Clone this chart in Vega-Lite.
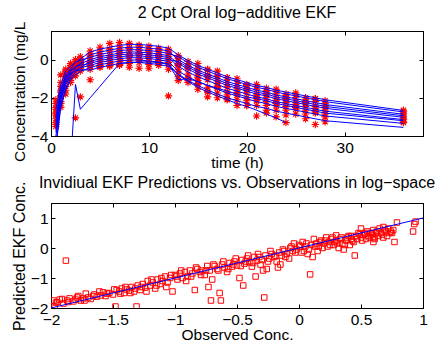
{
"$schema": "https://vega.github.io/schema/vega-lite/v6.json",
"padding": {"left": 10, "top": 4, "right": 5, "bottom": 0},
"spacing": 2,
"config": {
 "font": "Liberation Sans",
 "view": {"stroke": "#000000", "strokeWidth": 1},
 "axis": {"grid": false, "domainColor": "#000", "domainWidth": 1, "tickColor": "#000", "tickSize": -4, "labelColor": "#000", "labelFontSize": 15.5, "titleColor": "#000", "titleFontSize": 15.5, "titleFontWeight": "normal", "labelFlush": false, "labelOverlap": false, "minExtent": 0},
 "axisX": {"labelPadding": 8, "titlePadding": 0},
 "axisY": {"labelPadding": 7, "titlePadding": 3},
 "title": {"fontSize": 16, "fontWeight": "normal", "color": "#000", "font": "Liberation Sans", "frame": "group"}
},
"datasets": {
"top": [
{"s":1,"t":0.5,"p":-3.0,"o":-2.1},{"s":1,"t":1,"p":-1.54,"o":-1.2},{"s":1,"t":1.5,"p":-0.8,"o":-0.6},{"s":1,"t":2,"p":-0.49,"o":-0.3},{"s":1,"t":2.5,"p":-0.15,"o":-0.1},{"s":1,"t":3,"p":0.04,"o":0.15},{"s":1,"t":4,"p":0.4,"o":0.45},{"s":1,"t":5,"p":0.55,"o":0.65},{"s":1,"t":6,"p":0.65,"o":0.85},{"s":1,"t":7,"p":0.75,"o":0.9},{"s":1,"t":8,"p":0.8,"o":0.85},{"s":1,"t":9,"p":0.8,"o":0.75},{"s":1,"t":10,"p":0.75,"o":0.7},{"s":1,"t":11,"p":0.7,"o":0.6},{"s":1,"t":12,"p":0.6,"o":0.55},{"s":1,"t":13,"p":0.25,"o":0.2},{"s":1,"t":14,"p":-0.05,"o":-0.1},{"s":1,"t":15,"p":-0.3,"o":-0.2},{"s":1,"t":16,"p":-0.5,"o":-0.55},{"s":1,"t":17,"p":-0.7,"o":-0.6},{"s":1,"t":18,"p":-0.9,"o":-0.95},{"s":1,"t":19,"p":-1.05,"o":-1.0},{"s":1,"t":20,"p":-1.2,"o":-1.3},{"s":1,"t":21,"p":-1.35,"o":-1.3},{"s":1,"t":22,"p":-1.45,"o":-1.5},{"s":1,"t":23,"p":-1.6,"o":-1.55},{"s":1,"t":24,"p":-1.7,"o":-1.8},{"s":1,"t":25,"p":-1.8,"o":-1.75},{"s":1,"t":26,"p":-1.9,"o":-2.0},{"s":1,"t":27,"p":-2.0,"o":-2.05},{"s":1,"t":28,"p":-2.1,"o":-2.15},{"s":1,"t":36,"p":-2.66,"o":-2.65},
{"s":2,"t":0.5,"p":-4.0,"o":-2.9},{"s":2,"t":1,"p":-2.14,"o":-1.9},{"s":2,"t":1.5,"p":-1.3,"o":-1.2},{"s":2,"t":2,"p":-0.84,"o":-0.8},{"s":2,"t":2.5,"p":-0.45,"o":-0.35},{"s":2,"t":3,"p":-0.19,"o":-0.1},{"s":2,"t":4,"p":0.25,"o":0.3},{"s":2,"t":5,"p":0.4,"o":0.45},{"s":2,"t":6,"p":0.5,"o":0.55},{"s":2,"t":7,"p":0.6,"o":0.7},{"s":2,"t":8,"p":0.65,"o":0.6},{"s":2,"t":9,"p":0.65,"o":0.7},{"s":2,"t":10,"p":0.6,"o":0.55},{"s":2,"t":11,"p":0.55,"o":0.5},{"s":2,"t":12,"p":0.45,"o":0.4},{"s":2,"t":13,"p":0.0,"o":0.1},{"s":2,"t":14,"p":-0.3,"o":-0.4},{"s":2,"t":15,"p":-0.55,"o":-0.5},{"s":2,"t":16,"p":-0.75,"o":-0.85},{"s":2,"t":17,"p":-0.95,"o":-0.9},{"s":2,"t":18,"p":-1.15,"o":-1.2},{"s":2,"t":19,"p":-1.3,"o":-1.25},{"s":2,"t":20,"p":-1.45,"o":-1.55},{"s":2,"t":21,"p":-1.6,"o":-1.55},{"s":2,"t":22,"p":-1.7,"o":-1.8},{"s":2,"t":23,"p":-1.85,"o":-1.8},{"s":2,"t":24,"p":-1.95,"o":-2.05},{"s":2,"t":25,"p":-2.05,"o":-2.0},{"s":2,"t":26,"p":-2.15,"o":-2.25},{"s":2,"t":27,"p":-2.25,"o":-2.2},{"s":2,"t":28,"p":-2.35,"o":-2.4},{"s":2,"t":36,"p":-2.86,"o":-2.8},
{"s":3,"t":0.5,"p":-2.6,"o":-2.3},{"s":3,"t":1,"p":-1.3,"o":-0.8},{"s":3,"t":1.5,"p":-0.6,"o":-0.5},{"s":3,"t":2,"p":-0.35,"o":-0.2},{"s":3,"t":2.5,"p":-0.13,"o":0.0},{"s":3,"t":3,"p":-0.04,"o":0.05},{"s":3,"t":4,"p":0.12,"o":0.2},{"s":3,"t":5,"p":0.27,"o":0.3},{"s":3,"t":6,"p":0.37,"o":0.45},{"s":3,"t":7,"p":0.47,"o":0.5},{"s":3,"t":8,"p":0.52,"o":0.6},{"s":3,"t":9,"p":0.52,"o":0.5},{"s":3,"t":10,"p":0.47,"o":0.45},{"s":3,"t":11,"p":0.42,"o":0.45},{"s":3,"t":12,"p":0.32,"o":0.35},{"s":3,"t":13,"p":0.15,"o":0.05},{"s":3,"t":14,"p":-0.15,"o":-0.2},{"s":3,"t":15,"p":-0.4,"o":-0.45},{"s":3,"t":16,"p":-0.6,"o":-0.5},{"s":3,"t":17,"p":-0.8,"o":-0.85},{"s":3,"t":18,"p":-1.0,"o":-0.95},{"s":3,"t":19,"p":-1.15,"o":-1.25},{"s":3,"t":20,"p":-1.3,"o":-1.35},{"s":3,"t":21,"p":-1.45,"o":-1.4},{"s":3,"t":22,"p":-1.55,"o":-1.65},{"s":3,"t":23,"p":-1.7,"o":-1.65},{"s":3,"t":24,"p":-1.8,"o":-1.9},{"s":3,"t":25,"p":-1.9,"o":-1.85},{"s":3,"t":26,"p":-2.0,"o":-2.1},{"s":3,"t":27,"p":-2.1,"o":-2.05},{"s":3,"t":28,"p":-2.2,"o":-2.3},{"s":3,"t":36,"p":-2.74,"o":-2.7},
{"s":4,"t":0.5,"p":-3.4,"o":-2.6},{"s":4,"t":1,"p":-1.78,"o":-1.6},{"s":4,"t":1.5,"p":-1.0,"o":-0.9},{"s":4,"t":2,"p":-0.63,"o":-0.5},{"s":4,"t":2.5,"p":-0.37,"o":-0.3},{"s":4,"t":3,"p":-0.22,"o":-0.15},{"s":4,"t":4,"p":0.0,"o":0.05},{"s":4,"t":5,"p":0.15,"o":0.2},{"s":4,"t":6,"p":0.25,"o":0.2},{"s":4,"t":7,"p":0.35,"o":0.4},{"s":4,"t":8,"p":0.4,"o":0.45},{"s":4,"t":9,"p":0.4,"o":0.35},{"s":4,"t":10,"p":0.35,"o":0.4},{"s":4,"t":11,"p":0.3,"o":0.25},{"s":4,"t":12,"p":0.2,"o":0.15},{"s":4,"t":13,"p":-0.2,"o":-0.3},{"s":4,"t":14,"p":-0.5,"o":-0.45},{"s":4,"t":15,"p":-0.75,"o":-0.85},{"s":4,"t":16,"p":-0.95,"o":-0.9},{"s":4,"t":17,"p":-1.15,"o":-1.25},{"s":4,"t":18,"p":-1.35,"o":-1.3},{"s":4,"t":19,"p":-1.5,"o":-1.6},{"s":4,"t":20,"p":-1.65,"o":-1.6},{"s":4,"t":21,"p":-1.8,"o":-1.9},{"s":4,"t":22,"p":-1.9,"o":-1.85},{"s":4,"t":23,"p":-2.05,"o":-2.15},{"s":4,"t":24,"p":-2.15,"o":-2.1},{"s":4,"t":25,"p":-2.25,"o":-2.35},{"s":4,"t":26,"p":-2.35,"o":-2.3},{"s":4,"t":27,"p":-2.45,"o":-2.55},{"s":4,"t":28,"p":-2.55,"o":-2.5},{"s":4,"t":36,"p":-3.02,"o":-3.0},
{"s":5,"t":0.5,"p":-4.4,"o":-3.4},{"s":5,"t":1,"p":-2.38,"o":-2.3},{"s":5,"t":1.5,"p":-1.5,"o":-1.6},{"s":5,"t":2,"p":-0.98,"o":-1.1},{"s":5,"t":2.5,"p":-0.65,"o":-0.7},{"s":5,"t":3,"p":-0.42,"o":-0.4},{"s":5,"t":4,"p":-0.1,"o":-0.15},{"s":5,"t":5,"p":0.05,"o":0.0},{"s":5,"t":6,"p":0.15,"o":0.2},{"s":5,"t":7,"p":0.25,"o":0.3},{"s":5,"t":8,"p":0.3,"o":0.25},{"s":5,"t":9,"p":0.3,"o":0.35},{"s":5,"t":10,"p":0.25,"o":0.2},{"s":5,"t":11,"p":0.2,"o":0.2},{"s":5,"t":12,"p":0.1,"o":0.05},{"s":5,"t":13,"p":-0.35,"o":-0.25},{"s":5,"t":14,"p":-0.65,"o":-0.75},{"s":5,"t":15,"p":-0.9,"o":-0.95},{"s":5,"t":16,"p":-1.1,"o":-1.05},{"s":5,"t":17,"p":-1.3,"o":-1.4},{"s":5,"t":18,"p":-1.5,"o":-1.45},{"s":5,"t":19,"p":-1.65,"o":-1.75},{"s":5,"t":20,"p":-1.8,"o":-1.75},{"s":5,"t":21,"p":-1.95,"o":-2.05},{"s":5,"t":22,"p":-2.05,"o":-2.0},{"s":5,"t":23,"p":-2.2,"o":-2.3},{"s":5,"t":24,"p":-2.3,"o":-2.25},{"s":5,"t":25,"p":-2.4,"o":-2.5},{"s":5,"t":26,"p":-2.5,"o":-2.45},{"s":5,"t":27,"p":-2.6,"o":-2.7},{"s":5,"t":28,"p":-2.7,"o":-2.65},{"s":5,"t":36,"p":-3.14,"o":-3.1},
{"s":6,"t":0.5,"p":-3.2,"o":-2.5},{"s":6,"t":1,"p":-1.66,"o":-1.4},{"s":6,"t":1.5,"p":-0.9,"o":-0.7},{"s":6,"t":2,"p":-0.56,"o":-0.45},{"s":6,"t":2.5,"p":-0.38,"o":-0.25},{"s":6,"t":3,"p":-0.29,"o":-0.2},{"s":6,"t":4,"p":-0.2,"o":-0.1},{"s":6,"t":5,"p":-0.05,"o":-0.1},{"s":6,"t":6,"p":0.05,"o":0.0},{"s":6,"t":7,"p":0.15,"o":0.15},{"s":6,"t":8,"p":0.2,"o":0.2},{"s":6,"t":9,"p":0.2,"o":0.25},{"s":6,"t":10,"p":0.15,"o":0.1},{"s":6,"t":11,"p":0.1,"o":0.15},{"s":6,"t":12,"p":0.0,"o":-0.05},{"s":6,"t":13,"p":-0.1,"o":-0.2},{"s":6,"t":14,"p":-0.4,"o":-0.35},{"s":6,"t":15,"p":-0.65,"o":-0.7},{"s":6,"t":16,"p":-0.85,"o":-0.8},{"s":6,"t":17,"p":-1.05,"o":-1.1},{"s":6,"t":18,"p":-1.25,"o":-1.2},{"s":6,"t":19,"p":-1.4,"o":-1.5},{"s":6,"t":20,"p":-1.55,"o":-1.5},{"s":6,"t":21,"p":-1.7,"o":-1.8},{"s":6,"t":22,"p":-1.8,"o":-1.75},{"s":6,"t":23,"p":-1.95,"o":-2.05},{"s":6,"t":24,"p":-2.05,"o":-2.0},{"s":6,"t":25,"p":-2.15,"o":-2.25},{"s":6,"t":26,"p":-2.25,"o":-2.2},{"s":6,"t":27,"p":-2.35,"o":-2.45},{"s":6,"t":28,"p":-2.45,"o":-2.4},{"s":6,"t":36,"p":-2.94,"o":-2.9},
{"s":7,"t":0.5,"p":-3.8,"o":-3.1},{"s":7,"t":1,"p":-2.02,"o":-1.9},{"s":7,"t":1.5,"p":-1.2,"o":-1.1},{"s":7,"t":2,"p":-0.77,"o":-0.7},{"s":7,"t":2.5,"p":-0.56,"o":-0.5},{"s":7,"t":3,"p":-0.43,"o":-0.35},{"s":7,"t":4,"p":-0.3,"o":-0.3},{"s":7,"t":5,"p":-0.15,"o":-0.2},{"s":7,"t":6,"p":-0.05,"o":-0.1},{"s":7,"t":7,"p":0.05,"o":0.0},{"s":7,"t":8,"p":0.1,"o":0.15},{"s":7,"t":9,"p":0.1,"o":0.05},{"s":7,"t":10,"p":0.05,"o":0.1},{"s":7,"t":11,"p":0.0,"o":-0.05},{"s":7,"t":12,"p":-0.1,"o":-0.15},{"s":7,"t":13,"p":-0.6,"o":-0.5},{"s":7,"t":14,"p":-0.9,"o":-1.0},{"s":7,"t":15,"p":-1.15,"o":-1.1},{"s":7,"t":16,"p":-1.35,"o":-1.45},{"s":7,"t":17,"p":-1.55,"o":-1.5},{"s":7,"t":18,"p":-1.75,"o":-1.85},{"s":7,"t":19,"p":-1.9,"o":-1.85},{"s":7,"t":20,"p":-2.05,"o":-2.15},{"s":7,"t":21,"p":-2.2,"o":-2.15},{"s":7,"t":22,"p":-2.3,"o":-2.4},{"s":7,"t":23,"p":-2.45,"o":-2.4},{"s":7,"t":24,"p":-2.55,"o":-2.65},{"s":7,"t":25,"p":-2.65,"o":-2.6},{"s":7,"t":26,"p":-2.75,"o":-2.85},{"s":7,"t":27,"p":-2.85,"o":-2.8},{"s":7,"t":28,"p":-2.95,"o":-3.0},{"s":7,"t":36,"p":-3.34,"o":-3.25},
{"s":8,"t":0.5,"p":-4.6,"o":-3.5},{"s":8,"t":1,"p":-2.5,"o":-2.5},{"s":8,"t":1.5,"p":-1.6,"o":-1.8},{"s":8,"t":2,"p":-1.05,"o":-1.2},{"s":8,"t":2.5,"p":-0.8,"o":-0.85},{"s":8,"t":3,"p":-0.61,"o":-0.6},{"s":8,"t":4,"p":-0.42,"o":-0.35},{"s":8,"t":5,"p":-0.27,"o":-0.3},{"s":8,"t":6,"p":-0.17,"o":-0.2},{"s":8,"t":7,"p":-0.07,"o":-0.1},{"s":8,"t":8,"p":-0.02,"o":-0.05},{"s":8,"t":9,"p":-0.02,"o":0.0},{"s":8,"t":10,"p":-0.07,"o":-0.1},{"s":8,"t":11,"p":-0.12,"o":-0.15},{"s":8,"t":12,"p":-0.22,"o":-0.3},{"s":8,"t":13,"p":-0.8,"o":-0.9},{"s":8,"t":14,"p":-1.15,"o":-1.1},{"s":8,"t":15,"p":-1.45,"o":-1.55},{"s":8,"t":16,"p":-1.7,"o":-1.65},{"s":8,"t":17,"p":-1.9,"o":-2.0},{"s":8,"t":18,"p":-2.1,"o":-2.05},{"s":8,"t":19,"p":-2.3,"o":-2.4},{"s":8,"t":20,"p":-2.45,"o":-2.4},{"s":8,"t":21,"p":-2.65,"o":-2.95},{"s":8,"t":22,"p":-2.85,"o":-2.8},{"s":8,"t":23,"p":-3.05,"o":-3.0},{"s":8,"t":24,"p":-3.3,"o":-3.3},
{"s":9,"t":0.5,"p":-3.6,"o":-2.8},{"s":9,"t":1,"p":-1.9,"o":-1.7},{"s":9,"t":1.5,"p":-1.1,"o":-1.0},{"s":9,"t":2,"p":-0.7,"o":-0.65},{"s":9,"t":2.5,"p":-0.59,"o":-0.5},{"s":9,"t":3,"p":-0.53,"o":-0.45},{"s":9,"t":4,"p":-0.55,"o":-0.5},{"s":9,"t":5,"p":-0.4,"o":-0.4},{"s":9,"t":6,"p":-0.3,"o":-0.35},{"s":9,"t":7,"p":-0.2,"o":-0.3},{"s":9,"t":8,"p":-0.15,"o":-0.2},{"s":9,"t":9,"p":-0.15,"o":-0.15},{"s":9,"t":10,"p":-0.2,"o":-0.25},{"s":9,"t":11,"p":-0.25,"o":-0.3},{"s":9,"t":12,"p":-0.35,"o":-0.5},{"s":9,"t":13,"p":-0.75,"o":-0.65},{"s":9,"t":14,"p":-1.1,"o":-1.2},{"s":9,"t":15,"p":-1.35,"o":-1.3},{"s":9,"t":16,"p":-1.6,"o":-1.7},{"s":9,"t":17,"p":-1.8,"o":-1.75},{"s":9,"t":18,"p":-2.0,"o":-2.1},{"s":9,"t":19,"p":-2.15,"o":-2.1},{"s":9,"t":20,"p":-2.3,"o":-2.4},{"s":9,"t":21,"p":-2.45,"o":-2.4},{"s":9,"t":22,"p":-2.55,"o":-2.65},{"s":9,"t":23,"p":-2.7,"o":-2.65},{"s":9,"t":24,"p":-2.8,"o":-2.9},{"s":9,"t":25,"p":-2.9,"o":-2.85},{"s":9,"t":26,"p":-3.0,"o":-3.1},{"s":9,"t":27,"p":-3.1,"o":-3.4},{"s":9,"t":28,"p":-3.2,"o":-3.25},{"s":9,"t":36,"p":-3.55,"o":-3.3},
{"s":10,"t":0.5,"p":-6,"o":-3.3},{"s":10,"t":1,"p":-6,"o":-2.2},{"s":10,"t":1.5,"p":-6,"o":-1.4},{"s":10,"t":2,"p":-5.5,"o":-0.9},{"s":10,"t":2.5,"p":-1.3,"o":-3.05},{"s":10,"t":3,"p":-2.6,"o":-1.95},{"s":10,"t":4,"p":-2.0,"o":-1.05},{"s":10,"t":5,"p":-1.4,"o":-0.35},{"s":10,"t":6,"p":-0.8,"o":-0.3},{"s":10,"t":7,"p":-0.2,"o":-0.25},{"s":10,"t":8,"p":-0.15,"o":-0.4},{"s":10,"t":9,"p":-0.12,"o":-0.45},{"s":10,"t":10,"p":-0.12,"o":-0.45},{"s":10,"t":11,"p":-0.15,"o":-0.2},{"s":10,"t":12,"p":-0.25,"o":-1.9},{"s":10,"t":13,"p":-1.05,"o":-1.1},{"s":10,"t":14,"p":-1.0,"o":-0.95},{"s":10,"t":15,"p":-1.15,"o":-1.25},{"s":10,"t":16,"p":-1.35,"o":-1.95},{"s":10,"t":17,"p":-1.5,"o":-1.45},{"s":10,"t":18,"p":-1.65,"o":-1.7},{"s":10,"t":19,"p":-1.8,"o":-1.75},{"s":10,"t":20,"p":-1.95,"o":-2.0},{"s":10,"t":21,"p":-2.05,"o":-2.0},{"s":10,"t":22,"p":-2.15,"o":-2.2},{"s":10,"t":23,"p":-2.3,"o":-2.25},{"s":10,"t":24,"p":-2.4,"o":-2.45},{"s":10,"t":25,"p":-2.5,"o":-2.45},{"s":10,"t":26,"p":-2.6,"o":-2.65},{"s":10,"t":27,"p":-2.7,"o":-2.65},{"s":10,"t":28,"p":-2.8,"o":-2.85},{"s":10,"t":36,"p":-3.2,"o":-3.15}
],
"bot": [
{"x":-1.98,"y":-1.75},{"x":-1.97,"y":-1.95},{"x":-1.95,"y":-1.8},{"x":-1.93,"y":-1.72},{"x":-1.9,"y":-1.85},{"x":-1.88,"y":-0.42},{"x":-1.87,"y":-1.75},{"x":-1.85,"y":-1.68},{"x":-1.82,"y":-1.78},{"x":-1.8,"y":-1.72},{"x":-1.78,"y":-1.6},{"x":-1.76,"y":-1.75},{"x":-1.74,"y":-1.68},{"x":-1.72,"y":-1.52},{"x":-1.7,"y":-1.65},{"x":-1.68,"y":-1.7},{"x":-1.65,"y":-1.55},{"x":-1.63,"y":-1.62},{"x":-1.6,"y":-1.58},{"x":-1.58,"y":-1.48},{"x":-1.56,"y":-1.6},{"x":-1.53,"y":-1.5},{"x":-1.5,"y":-1.55},{"x":-1.48,"y":-1.95},{"x":-1.47,"y":-1.4},{"x":-1.45,"y":-1.45},{"x":-1.43,"y":-1.35},{"x":-1.41,"y":-1.5},{"x":-1.39,"y":-1.38},{"x":-1.37,"y":-1.42},{"x":-1.35,"y":-1.3},{"x":-1.33,"y":-1.45},{"x":-1.31,"y":-1.95},{"x":-1.3,"y":-1.25},{"x":-1.28,"y":-1.4},{"x":-1.26,"y":-1.2},{"x":-1.24,"y":-1.32},{"x":-1.22,"y":-1.1},{"x":-1.2,"y":-1.25},{"x":-1.18,"y":-1.15},{"x":-1.16,"y":-1.35},{"x":-1.14,"y":-1.05},{"x":-1.12,"y":-1.2},{"x":-1.1,"y":-1.1},{"x":-1.08,"y":-0.95},{"x":-1.06,"y":-1.15},{"x":-1.04,"y":-1.0},{"x":-1.02,"y":-1.45},{"x":-1.0,"y":-0.9},{"x":-0.98,"y":-1.05},{"x":-0.96,"y":-0.85},{"x":-0.94,"y":-1.0},{"x":-0.92,"y":-0.8},{"x":-0.9,"y":-0.95},{"x":-0.88,"y":-0.75},{"x":-0.86,"y":-0.85},{"x":-0.84,"y":-1.4},{"x":-0.82,"y":-0.7},{"x":-0.8,"y":-0.8},{"x":-0.78,"y":-0.75},{"x":-0.76,"y":-0.9},{"x":-0.74,"y":-0.6},{"x":-0.72,"y":-0.75},{"x":-0.71,"y":-1.75},{"x":-0.7,"y":-1.05},{"x":-0.68,"y":-0.6},{"x":-0.66,"y":-0.7},{"x":-0.64,"y":-1.5},{"x":-0.63,"y":-1.75},{"x":-0.62,"y":-0.55},{"x":-0.6,"y":-0.65},{"x":-0.58,"y":-0.8},{"x":-0.56,"y":-0.5},{"x":-0.54,"y":-0.62},{"x":-0.52,"y":-0.45},{"x":-0.5,"y":-0.58},{"x":-0.48,"y":-1.0},{"x":-0.46,"y":-0.4},{"x":-0.45,"y":-1.25},{"x":-0.44,"y":-0.52},{"x":-0.42,"y":-0.35},{"x":-0.4,"y":-0.48},{"x":-0.38,"y":-0.62},{"x":-0.36,"y":-0.3},{"x":-0.35,"y":-0.95},{"x":-0.34,"y":-0.42},{"x":-0.32,"y":-0.3},{"x":-0.3,"y":-0.4},{"x":-0.29,"y":-0.75},{"x":-0.28,"y":-1.65},{"x":-0.27,"y":-0.25},{"x":-0.26,"y":-0.7},{"x":-0.24,"y":-0.35},{"x":-0.22,"y":-0.2},{"x":-0.2,"y":-0.3},{"x":-0.18,"y":-0.45},{"x":-0.16,"y":-0.15},{"x":-0.15,"y":-0.55},{"x":-0.14,"y":-0.25},{"x":-0.12,"y":-0.1},{"x":-0.1,"y":-0.2},{"x":-0.08,"y":-0.35},{"x":-0.06,"y":0.05},{"x":-0.05,"y":-0.1},{"x":-0.04,"y":0.15},{"x":-0.02,"y":-0.05},{"x":0.0,"y":0.1},{"x":0.02,"y":-0.15},{"x":0.03,"y":0.2},{"x":0.05,"y":0.05},{"x":0.07,"y":-0.2},{"x":0.09,"y":-0.88},{"x":0.1,"y":0.1},{"x":0.11,"y":-0.3},{"x":0.12,"y":0.3},{"x":0.14,"y":0.15},{"x":0.16,"y":0.05},{"x":0.18,"y":0.25},{"x":0.2,"y":0.15},{"x":0.22,"y":0.35},{"x":0.24,"y":0.2},{"x":0.26,"y":0.3},{"x":0.28,"y":0.1},{"x":0.3,"y":0.25},{"x":0.32,"y":0.0},{"x":0.34,"y":0.35},{"x":0.35,"y":0.15},{"x":0.36,"y":-0.05},{"x":0.38,"y":0.25},{"x":0.4,"y":0.4},{"x":0.41,"y":0.1},{"x":0.42,"y":0.3},{"x":0.44,"y":0.2},{"x":0.45,"y":-0.25},{"x":0.46,"y":0.4},{"x":0.48,"y":0.5},{"x":0.5,"y":0.35},{"x":0.5,"y":0.65},{"x":0.52,"y":0.45},{"x":0.54,"y":0.3},{"x":0.55,"y":0.55},{"x":0.56,"y":0.4},{"x":0.58,"y":0.5},{"x":0.6,"y":0.35},{"x":0.6,"y":0.6},{"x":0.62,"y":0.5},{"x":0.64,"y":0.4},{"x":0.65,"y":0.65},{"x":0.66,"y":0.5},{"x":0.68,"y":0.35},{"x":0.7,"y":0.55},{"x":0.72,"y":0.65},{"x":0.74,"y":0.55},{"x":0.75,"y":0.5},{"x":0.77,"y":0.2},{"x":0.79,"y":0.85},{"x":0.92,"y":0.55},{"x":0.93,"y":0.8},{"x":0.94,"y":0.88},
{"x":-1.96,"y":-1.82},{"x":-1.91,"y":-1.7},{"x":-1.86,"y":-1.8},{"x":-1.79,"y":-1.65},{"x":-1.73,"y":-1.75},{"x":-1.66,"y":-1.6},{"x":-1.61,"y":-1.45},{"x":-1.55,"y":-1.52},{"x":-1.49,"y":-1.38},{"x":-1.44,"y":-1.52},{"x":-1.4,"y":-1.3},{"x":-1.36,"y":-1.5},{"x":-1.32,"y":-1.35},{"x":-1.27,"y":-1.3},{"x":-1.23,"y":-1.45},{"x":-1.19,"y":-1.05},{"x":-1.15,"y":-1.25},{"x":-1.11,"y":-1.0},{"x":-1.07,"y":-1.3},{"x":-1.03,"y":-0.9},{"x":-0.99,"y":-0.95},{"x":-0.95,"y":-0.75},{"x":-0.91,"y":-1.1},{"x":-0.87,"y":-0.95},{"x":-0.83,"y":-0.65},{"x":-0.79,"y":-0.9},{"x":-0.75,"y":-0.75},{"x":-0.73,"y":-1.3},{"x":-0.69,"y":-0.55},{"x":-0.65,"y":-0.75},{"x":-0.61,"y":-0.45},{"x":-0.57,"y":-0.7},{"x":-0.53,"y":-0.55},{"x":-0.51,"y":-0.35},{"x":-0.47,"y":-0.6},{"x":-0.43,"y":-0.45},{"x":-0.41,"y":-0.25},{"x":-0.37,"y":-0.5},{"x":-0.33,"y":-0.2},{"x":-0.31,"y":-0.55},{"x":-0.25,"y":-0.45},{"x":-0.23,"y":-0.1},{"x":-0.19,"y":-0.25},{"x":-0.17,"y":-0.65},{"x":-0.13,"y":-0.05},{"x":-0.11,"y":-0.3},{"x":-0.07,"y":0.0},{"x":-0.03,"y":-0.15},{"x":0.01,"y":0.05},{"x":0.04,"y":-0.1},{"x":0.06,"y":0.15},{"x":0.08,"y":-0.05},{"x":0.13,"y":0.05},{"x":0.15,"y":-0.1},{"x":0.17,"y":0.2},{"x":0.19,"y":0.0},{"x":0.21,"y":0.25},{"x":0.23,"y":0.05},{"x":0.25,"y":0.1},{"x":0.27,"y":0.35},{"x":0.29,"y":0.2},{"x":0.31,"y":0.15},{"x":0.33,"y":0.3},{"x":0.37,"y":0.1},{"x":0.39,"y":0.35},{"x":0.43,"y":0.25},{"x":0.47,"y":0.3},{"x":0.49,"y":0.45},{"x":0.51,"y":0.25},{"x":0.53,"y":0.5},{"x":0.57,"y":0.35},{"x":0.59,"y":0.45},{"x":0.61,"y":0.3},{"x":0.63,"y":0.55},{"x":0.67,"y":0.45},{"x":0.69,"y":0.6},{"x":0.71,"y":0.4},{"x":0.73,"y":0.5},{"x":0.76,"y":0.6},{"x":0.6,"y":0.2},{"x":0.68,"y":0.7},{"x":0.42,"y":0.4},{"x":0.3,"y":0.42}
],
"diag": [{"x":-2,"y":-2},{"x":1,"y":1}]
},
"vconcat": [
{
 "width": 372, "height": 105,
 "title": {"text": "2 Cpt Oral log−additive EKF", "offset": 0},
 "data": {"name": "top"},
 "layer": [
  {"mark": {"type": "point", "shape": "M-1,0L1,0M0,-1L0,1M-0.7,-0.7L0.7,0.7M-0.7,0.7L0.7,-0.7", "filled": false, "stroke": "#ff0000", "strokeWidth": 1.1, "size": 55, "opacity": 1, "clip": true},
   "encoding": {
    "x": {"field": "t", "type": "quantitative", "scale": {"domain": [0, 38], "nice": false, "zero": false}, "axis": {"values": [0, 10, 20, 30], "title": "time (h)"}},
    "y": {"field": "o", "type": "quantitative", "scale": {"domain": [-4, 1.5], "nice": false, "zero": false}, "axis": {"values": [-4, -2, 0], "title": "Concentration (mg/L", "titleAnchor": "end", "titleY": -10}}
   }},
  {"mark": {"type": "line", "color": "#0000ff", "strokeWidth": 1, "clip": true},
   "encoding": {
    "x": {"field": "t", "type": "quantitative", "axis": {"orient": "top", "labels": false, "title": null, "values": [0, 10, 20, 30]}},
    "y": {"field": "p", "type": "quantitative", "axis": {"orient": "right", "labels": false, "title": null, "values": [-4, -2, 0]}},
    "detail": {"field": "s", "type": "nominal"},
    "order": {"field": "t", "type": "quantitative"}
   }}
 ],
 "resolve": {"axis": {"x": "independent", "y": "independent"}}
},
{
 "width": 372, "height": 105,
 "title": {"text": "Invidiual EKF Predictions vs. Observations in log−space", "offset": -10},
 "layer": [
  {"data": {"name": "bot"},
   "mark": {"type": "point", "shape": "square", "filled": false, "stroke": "#ff0000", "strokeWidth": 1, "size": 30, "opacity": 1, "clip": true},
   "encoding": {
    "x": {"field": "x", "type": "quantitative", "scale": {"domain": [-2, 1], "nice": false, "zero": false}, "axis": {"values": [-2, -1.5, -1, -0.5, 0, 0.5, 1], "format": "~g", "title": "Observed Conc."}},
    "y": {"field": "y", "type": "quantitative", "scale": {"domain": [-2, 1.5], "nice": false, "zero": false}, "axis": {"values": [-2, -1, 0, 1], "format": "~g", "title": "Predicted EKF Conc.", "titleAnchor": "end", "titleY": -22, "titleFontSize": 16}}
   }},
  {"data": {"name": "diag"},
   "mark": {"type": "line", "color": "#0000ff", "strokeWidth": 1, "clip": true},
   "encoding": {
    "x": {"field": "x", "type": "quantitative", "axis": {"orient": "top", "labels": false, "title": null, "values": [-2, -1.5, -1, -0.5, 0, 0.5, 1]}},
    "y": {"field": "y", "type": "quantitative", "axis": {"orient": "right", "labels": false, "title": null, "values": [-2, -1, 0, 1]}}
   }}
 ],
 "resolve": {"axis": {"x": "independent", "y": "independent"}}
}
]
}
